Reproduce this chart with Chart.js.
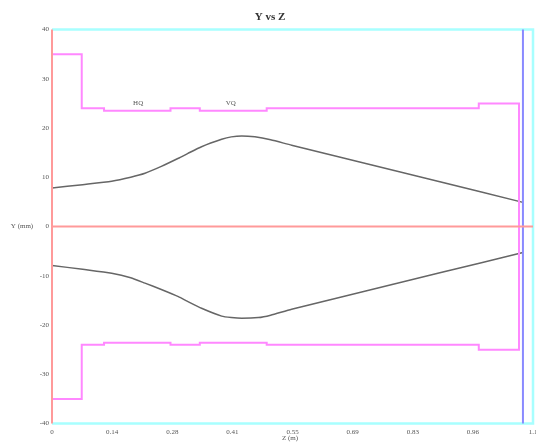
<!DOCTYPE html>
<html><head><meta charset="utf-8">
<script src="https://cdn.jsdelivr.net/npm/chart.js@4/dist/chart.umd.min.js"></script>
<style>html,body{margin:0;padding:0;background:#fff}#wrap{width:536px;height:443px}</style>
</head><body><div id="wrap"><canvas id="c" width="536" height="443"></canvas></div>
<script>
// Beam envelope (Z in m, Y in mm)
const envZ = [0, 0.07, 0.1365, 0.18, 0.2127, 0.25, 0.289, 0.31, 0.342, 0.388, 0.41, 0.434, 0.464, 0.50, 0.548, 0.887, 1.077];
const envUpper = [7.8, 8.5, 9.2, 10.0, 10.8, 12.2, 13.85, 14.8, 16.2, 17.7, 18.2, 18.4, 18.2, 17.6, 16.5, 9.1, 4.9];
const envLowerZ = [0, 0.07, 0.1365, 0.18, 0.2127, 0.25, 0.289, 0.31, 0.342, 0.388, 0.41, 0.434, 0.472, 0.50, 0.548, 0.887, 1.077];
const envLower = [-7.9, -8.7, -9.5, -10.4, -11.5, -12.8, -14.25, -15.2, -16.6, -18.2, -18.5, -18.65, -18.5, -18.0, -16.8, -9.4, -5.3];
// Aperture outline
const apZ = [0, 0.068, 0.068, 0.119, 0.119, 0.271, 0.271, 0.338, 0.338, 0.491, 0.491, 0.976, 0.976, 1.068,
             1.068, 0.976, 0.976, 0.491, 0.491, 0.338, 0.338, 0.271, 0.271, 0.119, 0.119, 0.068, 0.068, 0];
const apY = [35, 35, 24, 24, 23.5, 23.5, 24, 24, 23.5, 23.5, 24, 24, 25, 25,
             -25, -25, -24, -24, -23.6, -23.6, -24, -24, -23.6, -23.6, -24, -24, -35, -35];
// Reference lines
const frameZ = [0, 1.1, 1.1, 0];
const frameY = [40, 40, -40, -40];
const markerZ = 1.077;
// Axes
const xTickValues = [0, 0.1375, 0.275, 0.4125, 0.55, 0.6875, 0.825, 0.9625, 1.1];
const xTickLabels = ["0", "0.14", "0.28", "0.41", "0.55", "0.69", "0.83", "0.96", "1.1"];
const labels = [{text: "HQ", z: 0.197, y: 25.1}, {text: "VQ", z: 0.409, y: 25.1}];

const pts = (xs, ys) => xs.map((x, i) => ({x: x, y: ys[i]}));

const overlay = {
  id: 'overlay',
  afterDraw(chart) {
    const ctx = chart.ctx, xs = chart.scales.x, ys = chart.scales.y;
    ctx.save();
    ctx.fillStyle = '#333';
    ctx.font = 'bold 11px "Liberation Serif"';
    ctx.textAlign = 'center'; ctx.textBaseline = 'middle';
    ctx.fillText('Y vs Z', 270, 17);
    ctx.font = '7px "Liberation Serif"';
    ctx.fillStyle = '#555';
    labels.forEach(l => ctx.fillText(l.text, xs.getPixelForValue(l.z), ys.getPixelForValue(l.y)));
    ctx.fillText('Y (mm)', 22, ys.getPixelForValue(0));
    ctx.fillText('Z (m)', 290, 438);
    ctx.restore();
  }
};

new Chart(document.getElementById('c'), {
  type: 'line',
  data: {
    datasets: [
      {data: pts([0, 1.1], [0, 0]), borderColor: '#ff9a9a', borderWidth: 2, clip: false},
      {data: pts([0, 0], [-40, 40]), borderColor: '#ff9a9a', borderWidth: 2, clip: false},
      {data: pts([markerZ, markerZ], [-40, 40]), borderColor: '#8a8aff', borderWidth: 2, clip: false},
      {data: pts(frameZ, frameY), borderColor: '#a8ffff', borderWidth: 2.5, clip: false},
      {data: pts(apZ, apY), borderColor: '#ff88ff', borderWidth: 2, clip: false},
      {data: pts(envZ, envUpper), borderColor: '#666', borderWidth: 1.5, tension: 0.2},
      {data: pts(envLowerZ, envLower), borderColor: '#666', borderWidth: 1.5, tension: 0.2}
    ]
  },
  options: {
    responsive: false, animation: false,
    layout: {padding: {top: 29.5, right: 3, left: 0, bottom: 0}},
    elements: {point: {radius: 0}, line: {fill: false}},
    plugins: {legend: {display: false}, tooltip: {enabled: false}, title: {display: false}},
    scales: {
      x: {
        type: 'linear', min: 0, max: 1.1,
        grid: {display: false, drawTicks: false}, border: {display: false},
        afterBuildTicks: s => { s.ticks = xTickValues.map(v => ({value: v})); },
        afterFit: s => { s.height = 19.5; s.paddingLeft = 0; s.paddingRight = 0; },
        ticks: {
          padding: 4, color: '#555', font: {family: 'Liberation Serif', size: 7},
          callback: (v, i) => xTickLabels[i], maxRotation: 0, autoSkip: false
        }
      },
      y: {
        min: -40, max: 40,
        grid: {display: false, drawTicks: false}, border: {display: false},
        afterFit: s => { s.width = 52; s.paddingTop = 0; s.paddingBottom = 0; },
        ticks: {stepSize: 10, padding: 3, color: '#555', font: {family: 'Liberation Serif', size: 7}}
      }
    }
  },
  plugins: [overlay]
});
</script>
</body></html>
